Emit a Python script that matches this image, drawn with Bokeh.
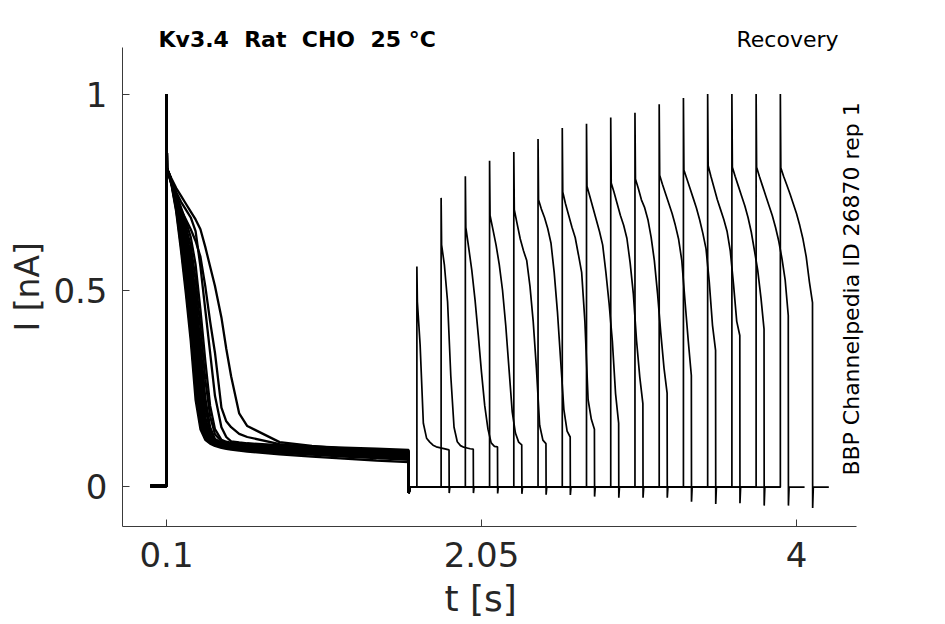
import math
from bokeh.plotting import figure
from bokeh.models import Range1d, FixedTicker, Label, Title
from bokeh.embed import file_html
from bokeh.resources import INLINE

# ---------------- data ----------------
x_ticks = [0.1, 2.05, 4]
x_tick_labels = ["0.1", "2.05", "4"]
y_ticks = [0, 0.5, 1]
y_tick_labels = ["0", "0.5", "1"]

# protocol times [s] and levels [nA]
trace_start = 0.0
pulse1_on = 0.1
pulse1_off = 1.6
pulse1_peak = 1.0
pulse1_off_dip = -0.018
baseline_after = -0.003

# first (inactivating) pulse: time grid and current of the individual sweeps [nA]
t_first = [0.103, 0.13, 0.16, 0.19, 0.22, 0.25, 0.28, 0.31, 0.34, 0.37, 0.40,
           0.44, 0.47, 0.50, 0.55, 0.60, 0.80, 1.00, 1.20, 1.40, 1.599]
first_m01 = [.81, .77, .70, .60, .49, .37, .22, .145, .118, .108, .102, .097, .095, .093, .090, .088, .081, .075, .070, .065, .061]
first_m02 = [.81, .772, .705, .612, .507, .39, .245, .155, .121, .11, .104, .10, .098, .096, .093, .091, .085, .080, .075, .071, .067]
first_m03 = [.81, .775, .71, .625, .525, .41, .27, .165, .125, .112, .105, .101, .10, .099, .097, .095, .089, .085, .081, .078, .075]
first_m04 = [.81, .775, .715, .635, .543, .432, .295, .18, .13, .114, .106, .10, .098, .096, .094, .092, .086, .081, .077, .073, .069]
first_m05 = [.81, .775, .72, .645, .56, .455, .32, .195, .135, .116, .107, .102, .101, .10, .098, .097, .092, .088, .085, .082, .079]
first_m06 = [.81, .778, .722, .655, .578, .478, .348, .215, .142, .118, .109, .104, .102, .101, .098, .096, .090, .085, .080, .076, .072]
first_m07 = [.81, .78, .725, .665, .595, .50, .375, .235, .15, .12, .11, .106, .104, .103, .101, .099, .094, .090, .087, .084, .081]
first_m08 = [.81, .78, .728, .672, .61, .522, .402, .262, .162, .125, .112, .105, .103, .101, .099, .097, .091, .087, .083, .079, .076]
first_m09 = [.81, .78, .73, .68, .625, .545, .43, .29, .175, .13, .114, .108, .106, .105, .103, .101, .096, .092, .089, .086, .083]
first_m10 = [.81, .78, .735, .688, .638, .568, .46, .325, .20, .14, .117, .108, .106, .104, .102, .10, .094, .09, .086, .082, .079]
first_m11 = [.81, .78, .74, .695, .65, .59, .49, .36, .225, .15, .12, .111, .109, .107, .105, .103, .098, .094, .091, .088, .085]
first_m12 = [.81, .78, .742, .702, .662, .612, .528, .405, .272, .178, .132, .114, .111, .108, .106, .104, .099, .095, .092, .089, .087]
first_m13 = [.81, .78, .745, .71, .675, .635, .565, .45, .32, .205, .145, .118, .113, .11, .108, .106, .101, .097, .094, .091, .089]
first_m14 = [.81, .78, .75, .725, .705, .685, .65, .56, .45, .34, .23, .15, .125, .114, .111, .109, .104, .101, .098, .095, .092]
first_b = [.81, .77, .735, .705, .68, .655, .625, .585, .51, .42, .34, .20, .165, .15, .133, .125, .107, .098, .092, .087, .083]
first_a = [.81, .785, .76, .74, .72, .70, .68, .655, .61, .56, .51, .43, .35, .28, .185, .153, .112, .102, .095, .09, .086]
first_sweeps = [first_m01, first_m02, first_m03, first_m04, first_m05, first_m06, first_m07,
                first_m08, first_m09, first_m10, first_m11, first_m12, first_m13, first_m14,
                first_b, first_a]

# second (recovery) pulses
pulse2_starts = [1.65, 1.80, 1.95, 2.10, 2.25, 2.40, 2.55, 2.70,
                 2.85, 3.00, 3.15, 3.30, 3.45, 3.60, 3.75, 3.90]
pulse2_dur = 0.2
pulse2_tail_len = 0.1
pulse2_peaks = [0.56, 0.735, 0.79, 0.83, 0.852, 0.885, 0.913, 0.924,
                0.94, 0.952, 0.974, 0.99, 1.0, 1.0, 1.0, 1.0]
pulse2_tails = [-0.018, -0.018, -0.019, -0.02, -0.022, -0.023, -0.027, -0.03,
                -0.03, -0.03, -0.04, -0.046, -0.044, -0.05, -0.05, -0.056]
t_rel = [0.003, 0.02, 0.04, 0.06, 0.08, 0.10, 0.12, 0.14, 0.16, 0.18, 0.199]
p2_01 = [.47, .36, .16, .122, .112, .104, .10, .098, .096, .094, .092]
p2_02 = [.615, .565, .47, .28, .15, .113, .103, .099, .097, .095, .094]
p2_03 = [.66, .61, .55, .475, .385, .29, .205, .145, .11, .101, .10]
p2_04 = [.69, .656, .615, .565, .50, .41, .30, .19, .135, .112, .105]
p2_05 = [.705, .67, .63, .60, .575, .51, .42, .30, .155, .117, .108]
p2_06 = [.73, .707, .685, .657, .62, .545, .445, .32, .195, .14, .125]
p2_07 = [.75, .72, .69, .66, .634, .59, .545, .42, .22, .17, .145]
p2_08 = [.765, .74, .71, .68, .65, .615, .545, .465, .37, .235, .16]
p2_09 = [.773, .75, .72, .69, .665, .632, .57, .49, .37, .277, .21]
p2_10 = [.783, .76, .73, .71, .68, .635, .575, .49, .39, .30, .237]
p2_11 = [.793, .77, .745, .72, .695, .665, .63, .575, .47, .37, .282]
p2_12 = [.806, .785, .76, .735, .71, .68, .645, .605, .52, .41, .346]
p2_13 = [.818, .79, .76, .73, .705, .68, .65, .60, .515, .42, .384]
p2_14 = [.813, .79, .765, .74, .715, .685, .648, .60, .55, .48, .40]
p2_15 = [.813, .79, .765, .74, .715, .69, .66, .625, .58, .525, .435]
p2_16 = [.812, .79, .768, .745, .72, .695, .665, .63, .585, .52, .468]
pulse2_decays = [p2_01, p2_02, p2_03, p2_04, p2_05, p2_06, p2_07, p2_08,
                 p2_09, p2_10, p2_11, p2_12, p2_13, p2_14, p2_15, p2_16]

title_text = "Kv3.4\u00a0 Rat\u00a0 CHO\u00a0 25 °C"
protocol_text = "Recovery"
id_text = "BBP Channelpedia ID 26870 rep 1"
x_label = "t [s]"
y_label = "I [nA]"

# ---------------- build the sweeps ----------------
xs1, ys1 = [], []
for sweep in first_sweeps:
    xs1.append([trace_start, pulse1_on, pulse1_on] + t_first + [pulse1_off, pulse1_off + 0.004])
    ys1.append([0.0, 0.0, pulse1_peak] + sweep + [pulse1_off_dip, baseline_after])

xs2, ys2 = [], []
for s, pk, tail, dec in zip(pulse2_starts, pulse2_peaks, pulse2_tails, pulse2_decays):
    e = s + pulse2_dur
    xs2.append([pulse1_off + 0.004, s, s] + [s + r for r in t_rel] + [e, e + 0.004, e + pulse2_tail_len])
    ys2.append([baseline_after, baseline_after, pk] + dec + [tail, baseline_after, baseline_after])

# ---------------- figure ----------------
# plotting area reaches the top and right edge so the annotations are not clipped;
# the axis lines are limited to the box of the original axes.
FRAME_LEFT, FRAME_W, FRAME_H = 122, 823, 526
px_per_x = 161.54
px_per_y = 392.0
x_lo = 0.1 - (166 - FRAME_LEFT) / px_per_x
y_lo = -(FRAME_H - 485.5) / px_per_y
x_range = Range1d(x_lo, x_lo + FRAME_W / px_per_x)
y_range = Range1d(y_lo, y_lo + FRAME_H / px_per_y)
axis_x_end = 4.371
axis_y_end = 1.1186

p = figure(frame_width=FRAME_W, frame_height=FRAME_H, output_backend="svg", toolbar_location=None,
           x_range=x_range, y_range=y_range,
           min_border_left=FRAME_LEFT, min_border_right=0, min_border_top=0, min_border_bottom=0)
p.title.visible = False
p.outline_line_color = None
p.xgrid.visible = False
p.ygrid.visible = False
p.background_fill_color = "white"
p.border_fill_color = "white"

p.multi_line(xs1, ys1, line_color="black", line_width=2.3)
p.multi_line(xs2, ys2, line_color="black", line_width=1.7)

FONT = "DejaVu Sans"
AX = "#262626"
for ax in (p.xaxis[0], p.yaxis[0]):
    ax.axis_line_color = "#3a3a3a"
    ax.axis_line_width = 1
    ax.major_tick_line_color = "#3a3a3a"
    ax.major_tick_in = 7
    ax.major_tick_out = 0
    ax.minor_tick_line_color = None
    ax.major_label_text_font = FONT
    ax.major_label_text_font_size = "34px"
    ax.major_label_text_color = AX

p.xaxis.bounds = (x_lo, axis_x_end)
p.yaxis.bounds = (y_lo, axis_y_end)
p.xaxis.ticker = FixedTicker(ticks=x_ticks)
p.xaxis.major_label_overrides = dict(zip(x_ticks, x_tick_labels))
p.yaxis.ticker = FixedTicker(ticks=y_ticks)
p.yaxis.major_label_overrides = dict(zip(y_ticks, y_tick_labels))
p.xaxis.major_label_standoff = 15
p.yaxis.major_label_standoff = 15

# axis titles (side titles, so they can be centred on the axis box, not on the plotting area)
p.add_layout(Title(text=x_label, align="left", offset=322, standoff=12, text_font=FONT,
                   text_font_size="36px", text_font_style="normal", text_color=AX), "below")
p.add_layout(Title(text=y_label, align="left", offset=195, standoff=8, text_font=FONT,
                   text_font_size="33px", text_font_style="normal", text_color=AX), "left")

top_text_y = 1.139
p.add_layout(Label(x=0.0505, y=top_text_y, text=title_text, text_font=FONT, text_font_size="22px",
                   text_font_style="bold", text_color="black", text_align="left",
                   text_baseline="alphabetic"))
p.add_layout(Label(x=4.26, y=top_text_y, text=protocol_text, text_font=FONT, text_font_size="22px",
                   text_color="black", text_align="right", text_baseline="alphabetic"))
p.add_layout(Label(x=4.341, y=0.5026, text=id_text, text_font=FONT, text_font_size="22px",
                   text_color="black", text_align="center", text_baseline="alphabetic",
                   angle=math.pi / 2))

open("out.html", "w").write(file_html(p, INLINE))
